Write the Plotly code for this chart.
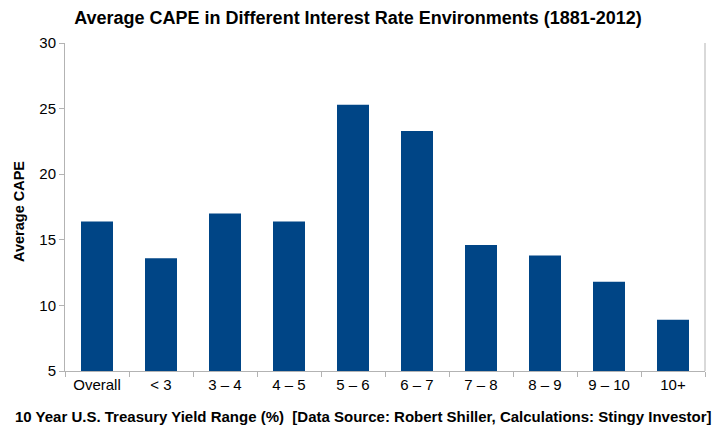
import plotly.graph_objects as go

categories = ["Overall", "< 3", "3 – 4", "4 – 5", "5 – 6", "6 – 7", "7 – 8", "8 – 9", "9 – 10", "10+"]
avg_cape = [16.4, 13.6, 17.0, 16.4, 25.3, 23.3, 14.6, 13.8, 11.8, 8.9]
y_ticks = [5, 10, 15, 20, 25, 30]

axis_color = "#b3b3b3"
font_family = "Liberation Sans, Arial, sans-serif"

fig = go.Figure()
fig.add_trace(go.Bar(
    x=categories, y=avg_cape,
    marker=dict(color="#004586", line=dict(width=0)),
    width=0.5,
))

fig.update_layout(
    width=727, height=436,
    margin=dict(l=57, r=30, t=35, b=73),
    paper_bgcolor="white", plot_bgcolor="white",
    showlegend=False,
    font=dict(family=font_family, color="#000000"),
    title=dict(
        text="<b>Average CAPE in Different Interest Rate Environments (1881-2012)</b>",
        x=350 / 727, xanchor="center", y=1 - 3 / 436, yanchor="top",
        font=dict(size=18, family=font_family, color="#000000"),
    ),
    xaxis=dict(
        showline=True, linecolor=axis_color, linewidth=1,
        ticks="outside", tickcolor=axis_color, ticklen=5, tickson="boundaries",
        tickfont=dict(size=15, color="#000000"),
        showgrid=False,
    ),
    yaxis=dict(
        range=[5, 30], tickvals=y_ticks,
        showline=True, linecolor=axis_color, linewidth=1,
        ticks="outside", tickcolor=axis_color, ticklen=5,
        tickfont=dict(size=15, color="#000000"),
        showgrid=False, zeroline=False,
    ),
    shapes=[dict(type="line", xref="paper", yref="paper", x0=1, x1=1, y0=0, y1=1,
                 line=dict(color=axis_color, width=1))],
    annotations=[
        dict(text="<b>10 Year U.S. Treasury Yield Range (%)  [Data Source: Robert Shiller, Calculations: Stingy Investor]</b>",
             xref="paper", yref="paper", x=(363 - 65) / 640, y=-(417 - 371) / 328,
             xanchor="center", yanchor="middle", showarrow=False,
             font=dict(size=15, color="#000000")),
        dict(text="<b>Average CAPE</b>", textangle=-90,
             xref="paper", yref="paper", x=-46 / 640, y=(371 - 212) / 328,
             xanchor="center", yanchor="middle", showarrow=False,
             font=dict(size=14.5, color="#000000")),
    ],
)

fig.write_html("out.html")
